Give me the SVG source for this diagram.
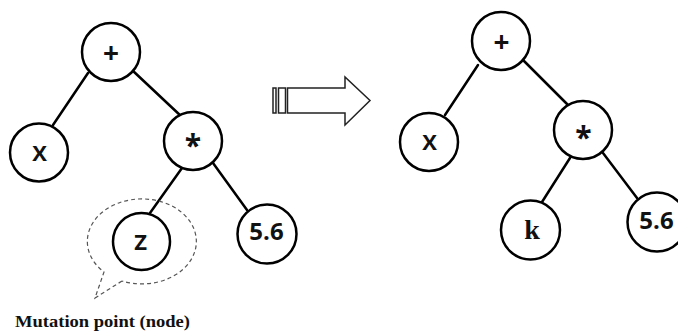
<svg xmlns="http://www.w3.org/2000/svg" width="678" height="335" viewBox="0 0 678 335">
<style>
.edge{stroke:#000;stroke-width:2.5;stroke-linecap:round;fill:none}
.node circle{fill:#fff;stroke:#000;stroke-width:2.5}
.lbl{font-family:"Open Sans","Liberation Sans",sans-serif;font-weight:700;fill:#111;text-anchor:middle}
.serif{font-family:"Liberation Serif","Times New Roman",serif;font-weight:700;fill:#111}
.arrow{fill:#fff;stroke:#222;stroke-width:1.5}
</style>
<rect width="678" height="335" fill="#fff"/>
<g id="connectors">
<line class="edge" x1="88" y1="73" x2="53" y2="125"/>
<line class="edge" x1="132" y1="70" x2="182" y2="117"/>
<line class="edge" x1="182" y1="168" x2="150" y2="213"/>
<line class="edge" x1="213" y1="163" x2="247" y2="210"/>
<line class="edge" x1="478" y1="65" x2="445" y2="115"/>
<line class="edge" x1="523" y1="60" x2="570" y2="107"/>
<line class="edge" x1="570" y1="158" x2="542" y2="202"/>
<line class="edge" x1="603" y1="153" x2="637" y2="198"/>
</g>
<g id="bubble">
<path d="M122 281 L95 298 L104 272 A54.5 42.5 0 1 1 122 281" fill="none" stroke="#555" stroke-width="1.2" stroke-dasharray="4 3"/>
</g>
<g id="L-plus" class="node"><circle cx="111" cy="52" r="29"/><text class="lbl" x="111" y="62.5" font-size="28">+</text></g>
<g id="L-x" class="node"><circle cx="39" cy="152.5" r="29"/><text class="lbl" x="39.5" y="160.5" font-size="22">X</text></g>
<g id="L-mul" class="node"><circle cx="193" cy="141" r="29"/><text class="lbl" x="193" y="156" font-size="30">*</text></g>
<g id="L-z" class="node"><circle cx="141.5" cy="241.5" r="28.5"/><text class="lbl" x="140.5" y="250" font-size="22">Z</text></g>
<g id="L-56" class="node"><circle cx="267" cy="234" r="29.5"/><text class="lbl" x="266.5" y="239.5" font-size="24">5.6</text></g>
<g id="arrow">
<rect class="arrow" x="273" y="88" width="3" height="25"/>
<rect class="arrow" x="278.5" y="88" width="7" height="25"/>
<polygon class="arrow" points="287.5,88 345,88 345,77 370,100.5 345,125 345,113 287.5,113"/>
</g>
<g id="R-plus" class="node"><circle cx="501" cy="41" r="29"/><text class="lbl" x="501.5" y="51.5" font-size="28">+</text></g>
<g id="R-x" class="node"><circle cx="429" cy="142" r="29"/><text class="lbl" x="429.5" y="150" font-size="22">X</text></g>
<g id="R-mul" class="node"><circle cx="583" cy="130" r="29"/><text class="lbl" x="583.5" y="147.5" font-size="30">*</text></g>
<g id="R-k" class="node"><circle cx="530.5" cy="230" r="29.5"/><text class="serif" x="532" y="238.5" font-size="28" text-anchor="middle">k</text></g>
<g id="R-56" class="node"><circle cx="657" cy="222" r="29.5"/><text class="lbl" x="656.5" y="229" font-size="24">5.6</text></g>
<text class="serif" x="15" y="327" font-size="17" textLength="175" lengthAdjust="spacingAndGlyphs">Mutation point (node)</text>
</svg>
